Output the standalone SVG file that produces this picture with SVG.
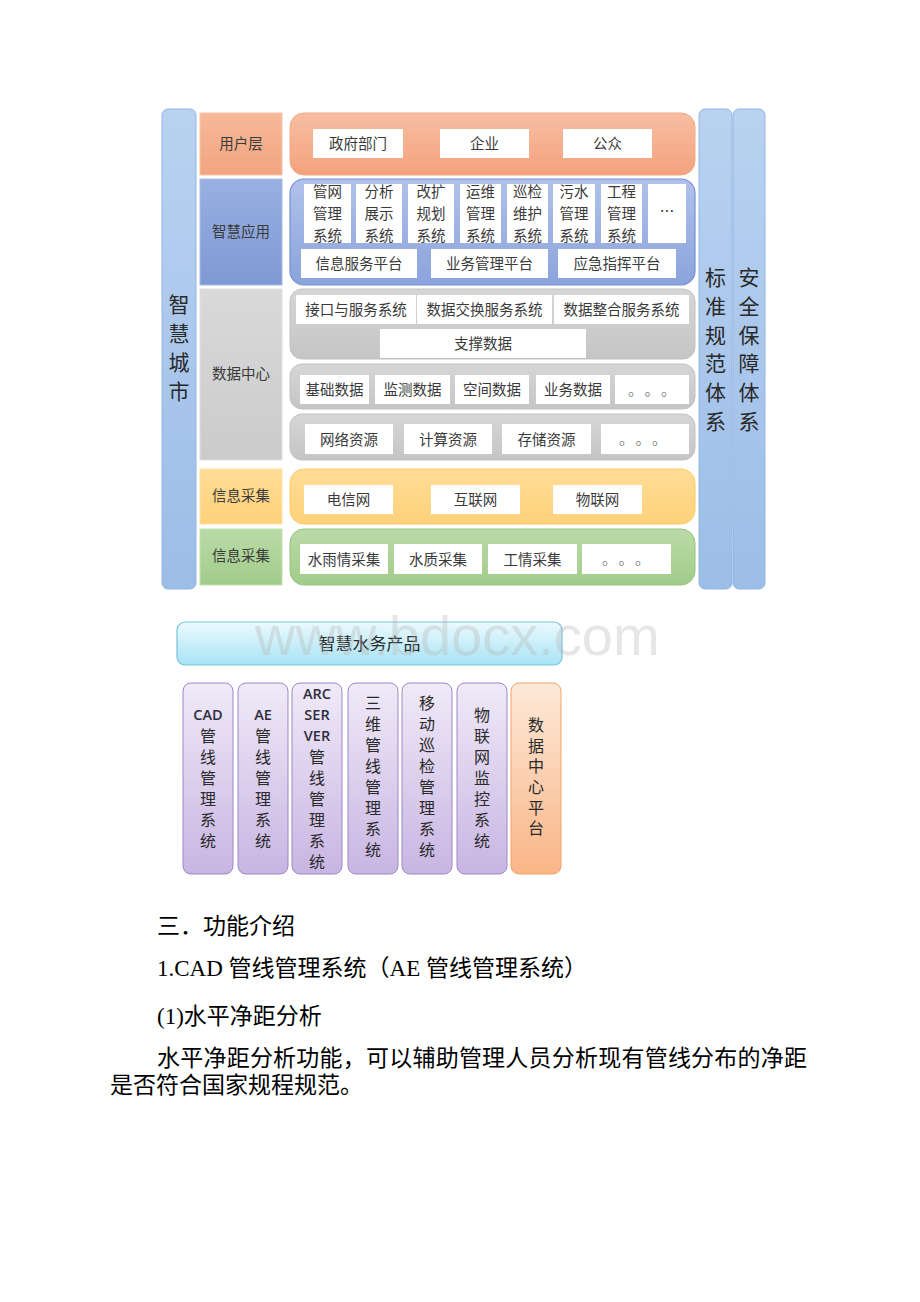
<svg xmlns="http://www.w3.org/2000/svg" width="920" height="1302" viewBox="0 0 920 1302">
<defs>
<style>
.t{font-family:"Noto Sans CJK SC","Noto Sans",sans-serif;fill:#3a3a3a;text-anchor:middle}
.s{font-size:14.5px}
.v{font-size:21px;fill:#2a2a2a}
.p{font-size:16px;fill:#2a2a2a}
.dots{font-family:"Noto Sans CJK SC",sans-serif;font-size:15px;fill:#808080;letter-spacing:9px}
.lat{font-family:"Open Sans","Noto Sans",sans-serif;font-size:14.5px;font-weight:600;fill:#2e2e3e;text-anchor:middle}
.wb{fill:#ffffff}
.doc{font-family:"Liberation Serif","Noto Sans CJK SC",serif;font-size:23px;fill:#000}
</style>
<linearGradient id="gCol" x1="0" y1="0" x2="0" y2="1"><stop offset="0" stop-color="#b9d2f1"/><stop offset="1" stop-color="#9cbde7"/></linearGradient>
<linearGradient id="gOrP" x1="0" y1="0" x2="0" y2="1"><stop offset="0" stop-color="#f8bea2"/><stop offset="1" stop-color="#f3a27d"/></linearGradient>
<linearGradient id="gOrL" x1="0" y1="0" x2="0" y2="1"><stop offset="0" stop-color="#f6b999"/><stop offset="1" stop-color="#f2a480"/></linearGradient>
<linearGradient id="gApP" x1="0" y1="0" x2="0" y2="1"><stop offset="0" stop-color="#b0c2eb"/><stop offset="1" stop-color="#8ba3dc"/></linearGradient>
<linearGradient id="gApL" x1="0" y1="0" x2="0" y2="1"><stop offset="0" stop-color="#98b0e1"/><stop offset="1" stop-color="#7f99d5"/></linearGradient>
<linearGradient id="gGrP" x1="0" y1="0" x2="0" y2="1"><stop offset="0" stop-color="#d6d6d6"/><stop offset="1" stop-color="#c5c5c5"/></linearGradient>
<linearGradient id="gGrL" x1="0" y1="0" x2="0" y2="1"><stop offset="0" stop-color="#d9d9d9"/><stop offset="1" stop-color="#cbcbcb"/></linearGradient>
<linearGradient id="gYe" x1="0" y1="0" x2="0" y2="1"><stop offset="0" stop-color="#ffdc96"/><stop offset="1" stop-color="#ffd27b"/></linearGradient>
<linearGradient id="gGn" x1="0" y1="0" x2="0" y2="1"><stop offset="0" stop-color="#badba8"/><stop offset="1" stop-color="#a2cc8a"/></linearGradient>
<linearGradient id="gPu" x1="0" y1="0" x2="0" y2="1"><stop offset="0" stop-color="#f0eaf8"/><stop offset="1" stop-color="#c8b5e2"/></linearGradient>
<linearGradient id="gOrB" x1="0" y1="0" x2="0" y2="1"><stop offset="0" stop-color="#fde9d8"/><stop offset="1" stop-color="#f9b586"/></linearGradient>
<linearGradient id="gCy" x1="0" y1="0" x2="0" y2="1"><stop offset="0" stop-color="#ebfafe"/><stop offset="1" stop-color="#a8e3f4"/></linearGradient>
</defs>
<rect width="920" height="1302" fill="#ffffff"/>

<!-- 智慧城市 column -->
<g id="n-city">
<rect x="162" y="109" width="34" height="480" rx="6" fill="url(#gCol)" stroke="#93b6e2" stroke-width="1"/>
<text class="t v"><tspan x="179" y="312">智</tspan><tspan x="179" y="341">慧</tspan><tspan x="179" y="370">城</tspan><tspan x="179" y="399">市</tspan></text>
</g>

<!-- Left label boxes -->
<g id="n-label-user">
<rect x="200" y="113" width="82" height="62" fill="url(#gOrL)" stroke="#f7c4aa" stroke-width="1"/>
<text class="t s" x="241" y="149">用户层</text>
</g>
<g id="n-label-app">
<rect x="200" y="179" width="82" height="106" fill="url(#gApL)" stroke="#a8bbe6" stroke-width="1"/>
<text class="t s" x="241" y="237">智慧应用</text>
</g>
<g id="n-label-dc">
<rect x="200" y="289" width="82" height="171" fill="url(#gGrL)" stroke="#e0e0e0" stroke-width="1"/>
<text class="t s" x="241" y="379">数据中心</text>
</g>
<g id="n-label-info1">
<rect x="200" y="469" width="82" height="55" fill="url(#gYe)" stroke="#ffe2a8" stroke-width="1"/>
<text class="t s" x="241" y="501">信息采集</text>
</g>
<g id="n-label-info2">
<rect x="200" y="529" width="82" height="56" fill="url(#gGn)" stroke="#c4e0b4" stroke-width="1"/>
<text class="t s" x="241" y="561">信息采集</text>
</g>

<!-- 用户层 panel -->
<g id="n-user">
<rect x="290" y="113" width="405" height="62" rx="14" fill="url(#gOrP)" stroke="#f2a987" stroke-width="1"/>
<rect class="wb" x="313" y="129" width="90" height="29"/>
<text class="t s" x="358" y="149">政府部门</text>
<rect class="wb" x="440" y="129" width="89" height="29"/>
<text class="t s" x="484.5" y="149">企业</text>
<rect class="wb" x="563" y="129" width="89" height="29"/>
<text class="t s" x="607.5" y="149">公众</text>
</g>

<!-- 智慧应用 panel -->
<g id="n-app">
<rect x="290" y="179" width="405" height="106" rx="14" fill="url(#gApP)" stroke="#7591d3" stroke-width="1.2"/>
<rect class="wb" x="304" y="184" width="47" height="59"/>
<text class="t s"><tspan x="327.5" y="197">管网</tspan><tspan x="327.5" y="219">管理</tspan><tspan x="327.5" y="241">系统</tspan></text>
<rect class="wb" x="356" y="184" width="46" height="59"/>
<text class="t s"><tspan x="379" y="197">分析</tspan><tspan x="379" y="219">展示</tspan><tspan x="379" y="241">系统</tspan></text>
<rect class="wb" x="408" y="184" width="46" height="59"/>
<text class="t s"><tspan x="431" y="197">改扩</tspan><tspan x="431" y="219">规划</tspan><tspan x="431" y="241">系统</tspan></text>
<rect class="wb" x="460" y="184" width="41" height="59"/>
<text class="t s"><tspan x="480.5" y="197">运维</tspan><tspan x="480.5" y="219">管理</tspan><tspan x="480.5" y="241">系统</tspan></text>
<rect class="wb" x="507" y="184" width="41" height="59"/>
<text class="t s"><tspan x="527.5" y="197">巡检</tspan><tspan x="527.5" y="219">维护</tspan><tspan x="527.5" y="241">系统</tspan></text>
<rect class="wb" x="553" y="184" width="42" height="59"/>
<text class="t s"><tspan x="574" y="197">污水</tspan><tspan x="574" y="219">管理</tspan><tspan x="574" y="241">系统</tspan></text>
<rect class="wb" x="601" y="184" width="41" height="59"/>
<text class="t s"><tspan x="621.5" y="197">工程</tspan><tspan x="621.5" y="219">管理</tspan><tspan x="621.5" y="241">系统</tspan></text>
<rect class="wb" x="648" y="184" width="38" height="59"/>
<text class="t s" x="667" y="217">…</text>
<rect class="wb" x="301" y="249" width="116" height="29"/>
<text class="t s" x="359" y="269">信息服务平台</text>
<rect class="wb" x="431" y="249" width="117" height="29"/>
<text class="t s" x="489.5" y="269">业务管理平台</text>
<rect class="wb" x="558" y="249" width="118" height="29"/>
<text class="t s" x="617" y="269">应急指挥平台</text>
</g>

<!-- 数据中心 panels -->
<g id="n-dc-service">
<rect x="290" y="289" width="405" height="70" rx="12" fill="url(#gGrP)" stroke="#c2c2c2" stroke-width="1"/>
<rect class="wb" x="296" y="295" width="120" height="29"/>
<text class="t s" x="356" y="315">接口与服务系统</text>
<rect class="wb" x="417" y="295" width="135" height="29"/>
<text class="t s" x="484.5" y="315">数据交换服务系统</text>
<rect class="wb" x="554" y="295" width="135" height="29"/>
<text class="t s" x="621.5" y="315">数据整合服务系统</text>
<rect class="wb" x="380" y="329" width="206" height="29"/>
<text class="t s" x="483" y="349">支撑数据</text>
</g>
<g id="n-dc-data">
<rect x="290" y="364" width="405" height="45" rx="12" fill="url(#gGrP)" stroke="#c2c2c2" stroke-width="1"/>
<rect class="wb" x="300" y="375" width="69" height="29"/>
<text class="t s" x="334.5" y="395">基础数据</text>
<rect class="wb" x="375" y="375" width="75" height="29"/>
<text class="t s" x="412.5" y="395">监测数据</text>
<rect class="wb" x="455" y="375" width="74" height="29"/>
<text class="t s" x="492" y="395">空间数据</text>
<rect class="wb" x="536" y="375" width="74" height="29"/>
<text class="t s" x="573" y="395">业务数据</text>
<rect class="wb" x="615" y="375" width="74" height="29"/>
<text class="dots" x="628" y="395">。。。</text>
</g>
<g id="n-dc-res">
<rect x="290" y="414" width="405" height="46" rx="12" fill="url(#gGrP)" stroke="#c2c2c2" stroke-width="1"/>
<rect class="wb" x="305" y="424" width="88" height="30"/>
<text class="t s" x="349" y="444.5">网络资源</text>
<rect class="wb" x="404" y="424" width="88" height="30"/>
<text class="t s" x="448" y="444.5">计算资源</text>
<rect class="wb" x="502" y="424" width="89" height="30"/>
<text class="t s" x="546.5" y="444.5">存储资源</text>
<rect class="wb" x="601" y="424" width="88" height="30"/>
<text class="dots" x="619" y="444">。。。</text>
</g>

<!-- 信息采集 (network) -->
<g id="n-net">
<rect x="290" y="469" width="405" height="55" rx="14" fill="url(#gYe)" stroke="#fcca62" stroke-width="1"/>
<rect class="wb" x="304" y="485" width="89" height="29"/>
<text class="t s" x="348.5" y="505">电信网</text>
<rect class="wb" x="431" y="485" width="89" height="29"/>
<text class="t s" x="475.5" y="505">互联网</text>
<rect class="wb" x="553" y="485" width="89" height="29"/>
<text class="t s" x="597.5" y="505">物联网</text>
</g>

<!-- 信息采集 (collection) -->
<g id="n-collect">
<rect x="290" y="529" width="405" height="56" rx="14" fill="url(#gGn)" stroke="#98c47f" stroke-width="1"/>
<rect class="wb" x="300" y="544" width="88" height="30"/>
<text class="t s" x="344" y="564.5">水雨情采集</text>
<rect class="wb" x="394" y="544" width="88" height="30"/>
<text class="t s" x="438" y="564.5">水质采集</text>
<rect class="wb" x="488" y="544" width="89" height="30"/>
<text class="t s" x="532.5" y="564.5">工情采集</text>
<rect class="wb" x="582" y="544" width="89" height="30"/>
<text class="dots" x="602" y="564">。。。</text>
</g>

<!-- Right columns -->
<g id="n-std">
<rect x="699" y="109" width="33" height="480" rx="6" fill="url(#gCol)" stroke="#93b6e2" stroke-width="1"/>
<text class="t v"><tspan x="715.5" y="285">标</tspan><tspan x="715.5" y="314">准</tspan><tspan x="715.5" y="343">规</tspan><tspan x="715.5" y="371">范</tspan><tspan x="715.5" y="400">体</tspan><tspan x="715.5" y="429">系</tspan></text>
</g>
<g id="n-sec">
<rect x="733" y="109" width="32" height="480" rx="6" fill="url(#gCol)" stroke="#93b6e2" stroke-width="1"/>
<text class="t v"><tspan x="749" y="285">安</tspan><tspan x="749" y="314">全</tspan><tspan x="749" y="343">保</tspan><tspan x="749" y="371">障</tspan><tspan x="749" y="400">体</tspan><tspan x="749" y="429">系</tspan></text>
</g>

<!-- Products -->
<g id="n-products">
<rect x="177" y="622" width="385" height="43" rx="8" fill="url(#gCy)" stroke="#78c2da" stroke-width="1.2"/>
<text class="t" style="font-size:17px;fill:#2a2a2a" x="369.5" y="650">智慧水务产品</text>
</g>

<text x="255" y="655" style="font-family:'Liberation Sans',Arial,sans-serif;font-size:56px;fill:#b4b4b4;opacity:0.33">www.bdocx.com</text>

<g id="n-p-cad">
<rect x="183" y="683" width="50" height="191" rx="8" fill="url(#gPu)" stroke="#9d87c6" stroke-width="1"/>
<text class="lat" x="208" y="720">CAD</text>
<text class="t p"><tspan x="208" y="742">管</tspan><tspan x="208" y="763">线</tspan><tspan x="208" y="784">管</tspan><tspan x="208" y="805">理</tspan><tspan x="208" y="826">系</tspan><tspan x="208" y="847">统</tspan></text>
</g>
<g id="n-p-ae">
<rect x="238" y="683" width="50" height="191" rx="8" fill="url(#gPu)" stroke="#9d87c6" stroke-width="1"/>
<text class="lat" x="263" y="720">AE</text>
<text class="t p"><tspan x="263" y="742">管</tspan><tspan x="263" y="763">线</tspan><tspan x="263" y="784">管</tspan><tspan x="263" y="805">理</tspan><tspan x="263" y="826">系</tspan><tspan x="263" y="847">统</tspan></text>
</g>
<g id="n-p-arc">
<rect x="292" y="683" width="50" height="191" rx="8" fill="url(#gPu)" stroke="#9d87c6" stroke-width="1"/>
<text class="lat"><tspan x="317" y="699">ARC</tspan><tspan x="317" y="720">SER</tspan><tspan x="317" y="741">VER</tspan></text>
<text class="t p"><tspan x="317" y="763">管</tspan><tspan x="317" y="784">线</tspan><tspan x="317" y="805">管</tspan><tspan x="317" y="826">理</tspan><tspan x="317" y="847">系</tspan><tspan x="317" y="868">统</tspan></text>
</g>
<g id="n-p-3d">
<rect x="348" y="683" width="50" height="191" rx="8" fill="url(#gPu)" stroke="#9d87c6" stroke-width="1"/>
<text class="t p"><tspan x="373" y="709">三</tspan><tspan x="373" y="730">维</tspan><tspan x="373" y="751">管</tspan><tspan x="373" y="772">线</tspan><tspan x="373" y="793">管</tspan><tspan x="373" y="814">理</tspan><tspan x="373" y="835">系</tspan><tspan x="373" y="856">统</tspan></text>
</g>
<g id="n-p-mobile">
<rect x="402" y="683" width="50" height="191" rx="8" fill="url(#gPu)" stroke="#9d87c6" stroke-width="1"/>
<text class="t p"><tspan x="427" y="709">移</tspan><tspan x="427" y="730">动</tspan><tspan x="427" y="751">巡</tspan><tspan x="427" y="772">检</tspan><tspan x="427" y="793">管</tspan><tspan x="427" y="814">理</tspan><tspan x="427" y="835">系</tspan><tspan x="427" y="856">统</tspan></text>
</g>
<g id="n-p-iot">
<rect x="457" y="683" width="50" height="191" rx="8" fill="url(#gPu)" stroke="#9d87c6" stroke-width="1"/>
<text class="t p"><tspan x="482" y="721">物</tspan><tspan x="482" y="742">联</tspan><tspan x="482" y="763">网</tspan><tspan x="482" y="784">监</tspan><tspan x="482" y="805">控</tspan><tspan x="482" y="826">系</tspan><tspan x="482" y="847">统</tspan></text>
</g>
<g id="n-p-dc">
<rect x="511" y="683" width="50" height="191" rx="8" fill="url(#gOrB)" stroke="#f2a466" stroke-width="1"/>
<text class="t p"><tspan x="536" y="731">数</tspan><tspan x="536" y="752">据</tspan><tspan x="536" y="772">中</tspan><tspan x="536" y="793">心</tspan><tspan x="536" y="814">平</tspan><tspan x="536" y="834">台</tspan></text>
</g>

<g id="connectors"></g>

<!-- Document text -->
<g id="doc-text">
<text class="doc" x="157" y="934">三．功能介绍</text>
<text class="doc" x="157" y="976">1.CAD 管线管理系统（AE 管线管理系统）</text>
<text class="doc" x="157" y="1024">(1)水平净距分析</text>
<text class="doc" x="157" y="1066" textLength="650" lengthAdjust="spacing">水平净距分析功能，可以辅助管理人员分析现有管线分布的净距</text>
<text class="doc" x="110" y="1093">是否符合国家规程规范。</text>
</g>
</svg>
